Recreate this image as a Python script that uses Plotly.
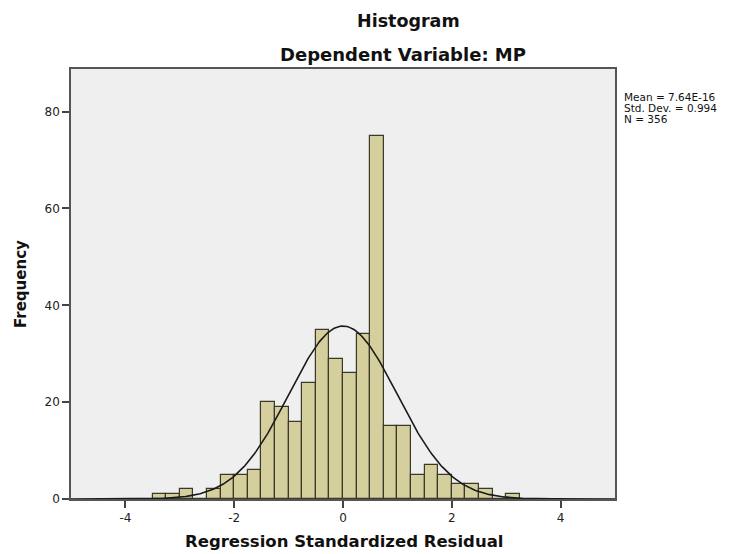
import numpy as np
import plotly.graph_objects as go

# Data (bin width 0.25)
bin_lower_edges = [-3.5, -3.25, -3.0, -2.75, -2.5, -2.25, -2.0, -1.75, -1.5, -1.25,
                   -1.0, -0.75, -0.5, -0.25, 0.0, 0.25, 0.5, 0.75, 1.0, 1.25,
                   1.5, 1.75, 2.0, 2.25, 2.5, 2.75, 3.0]
counts = [1, 1, 2, 0, 2, 5, 5, 6, 20, 19,
          16, 24, 35, 29, 26, 34, 75, 15, 15, 5,
          7, 5, 3, 3, 2, 0, 1]
bin_width = 0.25
stat_mean = 7.64e-16
stat_sd = 0.994
stat_n = 356
x_ticks = [-4, -2, 0, 2, 4]
y_ticks = [0, 20, 40, 60, 80]
stats_lines = ["Mean = 7.64E-16", "Std. Dev. = 0.994", "N = 356"]

centers = [e + bin_width / 2 for e in bin_lower_edges]

# Normal curve scaled to counts
xc = np.linspace(-5, 5, 401)
yc = stat_n * bin_width * np.exp(-0.5 * ((xc - stat_mean) / stat_sd) ** 2) / (stat_sd * np.sqrt(2 * np.pi))

fig = go.Figure()
fig.add_trace(go.Bar(
    x=centers, y=counts, width=bin_width,
    marker=dict(color="#D4CF9D", line=dict(color="#3A3828", width=1.2)),
    hoverinfo="x+y",
))
fig.add_trace(go.Scatter(
    x=xc, y=yc, mode="lines",
    line=dict(color="#1a1a1a", width=1.6),
    hoverinfo="skip",
))

W, H = 735, 554
L, R, T, B = 71, 120, 69, 55
plot_w = W - L - R
plot_h = H - T - B

def xpaper(p):
    return (p - L) / plot_w

def ypaper(p):
    return (H - B - p) / plot_h

anns = []
for text, px, py, size in [("<b>Histogram</b>", 408, 21, 17.5),
                           ("<b>Dependent Variable: MP</b>", 403, 55, 18)]:
    anns.append(dict(text=text, xref="paper", yref="paper",
                     x=xpaper(px), y=ypaper(py),
                     xanchor="center", yanchor="middle", showarrow=False,
                     font=dict(family="DejaVu Sans", size=size, color="#111111")))
for i, s in enumerate(stats_lines):
    anns.append(dict(text=s, xref="paper", yref="paper",
                     x=xpaper(622), y=ypaper(97 + 11 * i),
                     xanchor="left", yanchor="middle", showarrow=False,
                     font=dict(family="DejaVu Sans", size=10.5, color="#111111")))
anns.append(dict(text="<b>Regression Standardized Residual</b>", xref="paper", yref="paper",
                 x=xpaper(344), y=ypaper(541), xanchor="center", yanchor="middle",
                 showarrow=False, font=dict(family="DejaVu Sans", size=16.5, color="#111111")))
anns.append(dict(text="<b>Frequency</b>", xref="paper", yref="paper",
                 x=xpaper(21), y=ypaper(284), xanchor="center", yanchor="middle",
                 textangle=-90, showarrow=False,
                 font=dict(family="DejaVu Sans", size=15, color="#111111")))

fig.update_layout(
    width=W, height=H,
    margin=dict(l=L, r=R, t=T, b=B, pad=0, autoexpand=False),
    paper_bgcolor="white",
    plot_bgcolor="#EFEFEF",
    showlegend=False,
    bargap=0,
    font=dict(family="DejaVu Sans", color="#222222"),
    annotations=anns,
    xaxis=dict(
        range=[-5, 5], tickvals=x_ticks, ticktext=[str(v) for v in x_ticks],
        showgrid=False, zeroline=False, automargin=False,
        showline=True, linecolor="#555555", linewidth=1.5, mirror=True,
        ticks="outside", ticklen=7, tickcolor="#444444", tickwidth=1.5,
        tickfont=dict(size=12, color="#222222"),
    ),
    yaxis=dict(
        range=[0, 88.8], tickvals=y_ticks, ticktext=[str(v) for v in y_ticks],
        showgrid=False, zeroline=False, automargin=False,
        showline=True, linecolor="#555555", linewidth=1.5, mirror=True,
        ticks="outside", ticklen=7, tickcolor="#444444", tickwidth=1.5,
        tickfont=dict(size=12, color="#222222"),
    ),
)

fig.write_html("out.html", config={"displayModeBar": False},
               post_script="document.body.style.margin='0';document.body.style.overflow='hidden';")
